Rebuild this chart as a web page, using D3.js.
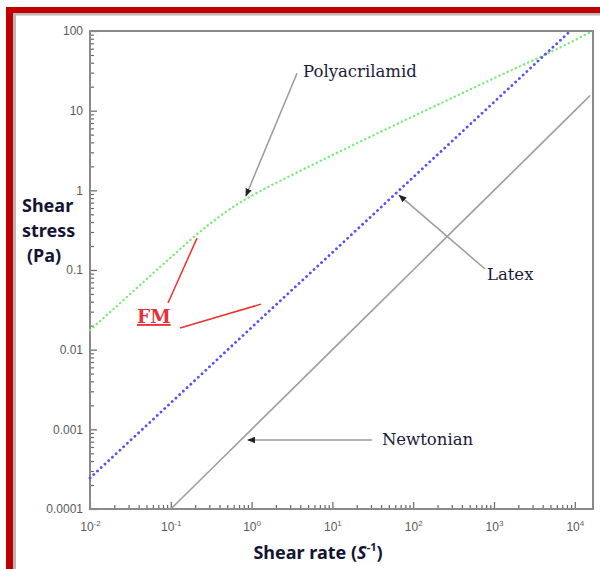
<!DOCTYPE html>
<html lang="en">
<head>
   <meta charset="UTF-8">
   <title>Shear stress vs shear rate</title>
   <style>
      body {
         margin: 0;
         background: white;
      }

      .tick text {
         font-family: 'Liberation Sans Narrow', 'Liberation Sans', sans-serif;
         fill: #5a5a5a;
      }

      .note {
         font-family: 'DejaVu Serif', serif;
         font-size: 16.5px;
         fill: #1b1b3a;
      }

      .title {
         font-family: 'Noto Sans', sans-serif;
         font-weight: bold;
         font-size: 18px;
         fill: #141432;
      }
   </style>
   <script src="https://cdn.jsdelivr.net/npm/d3@7"></script>
</head>
<body>
   <div class="d3"></div>
   <script>
      // axis extents
      const rateDomain = [0.01, 1.68e4]
      const stressDomain = [1e-4, 100]
      const rateMajor = [0.01, 0.1, 1, 10, 100, 1000, 10000]
      const rateExp = ['-2', '-1', '0', '1', '2', '3', '4']
      const stressMajor = [1e-4, 1e-3, 0.01, 0.1, 1, 10, 100]
      const stressLabels = ['0.0001', '0.001', '0.01', '0.1', '1', '10', '100']

      // Polyacrilamid (green dots)
      const polyRate = [0.01, 0.03, 0.1, 0.3, 0.7, 1, 3, 10, 100, 1000, 10000, 15500]
      const polyStress = [0.0176, 0.0479, 0.144, 0.376, 0.69, 0.853, 1.52, 2.77, 8.5, 25.5, 76.7, 96.6]

      // Latex (blue dots)
      const latexRate = [0.01, 0.1, 1, 10, 100, 1000, 8700]
      const latexStress = [2.45e-4, 2.15e-3, 0.019, 0.166, 1.46, 12.8, 99]

      // Newtonian (grey line)
      const newtRate = [0.1, 1, 10, 100, 1000, 10000, 15500]
      const newtStress = [1e-4, 1e-3, 0.01, 0.1, 1, 10, 15.5]

      // annotations, in data units [rate, stress]
      const notes = [
         { text: 'Polyacrilamid', at: [4.33, 26.3], from: [3.65, 29.5], to: [0.85, 0.85] },
         { text: 'Latex', at: [818, 0.0747], from: [775, 0.103], to: [67, 0.87] },
         { text: 'Newtonian', at: [41, 6.35e-4], from: [31, 7.35e-4], to: [0.9, 7.35e-4] }
      ]
      const fmAt = [0.0382, 0.0216]
      const fmLines = [
         [[0.0923, 0.0385], [0.211, 0.251]],
         [[0.13, 0.0187], [1.31, 0.0373]]
      ]

      const W = 600, H = 569
      const plot = { left: 90, right: 593, top: 31, bottom: 509 }

      const svg = d3.select('.d3').append('svg')
         .attr('width', W)
         .attr('height', H)

      // red frame of the figure
      svg.append('rect').attr('x', 13).attr('y', 13).attr('width', 3).attr('height', H).attr('fill', '#b8b8b8')
      svg.append('rect').attr('x', 13).attr('y', 13).attr('width', W).attr('height', 2.5).attr('fill', '#b8b8b8')
      svg.append('rect').attr('x', 6).attr('y', 7).attr('width', 7).attr('height', H).attr('fill', '#c00000')
      svg.append('rect').attr('x', 6).attr('y', 7).attr('width', W).attr('height', 6).attr('fill', '#c00000')

      const x = d3.scaleLog().domain(rateDomain).range([plot.left, plot.right])
      const y = d3.scaleLog().domain(stressDomain).range([plot.bottom, plot.top])

      const minorX = x.ticks().filter(v => !rateMajor.some(m => Math.abs(m - v) / m < 1e-6))
      const minorY = y.ticks().filter(v => !stressMajor.some(m => Math.abs(m - v) / m < 1e-6))

      // minor ticks
      svg.append('g')
         .attr('transform', `translate(0, ${plot.bottom})`)
         .call(d3.axisBottom(x).tickValues(minorX).tickSize(-4).tickFormat(''))
      svg.append('g')
         .attr('transform', `translate(${plot.left}, 0)`)
         .call(d3.axisLeft(y).tickValues(minorY).tickSize(-4).tickFormat(''))

      // major ticks + labels
      const xAxis = svg.append('g')
         .attr('transform', `translate(0, ${plot.bottom})`)
         .call(d3.axisBottom(x).tickValues(rateMajor).tickSize(-7).tickPadding(13).tickFormat(''))
      xAxis.selectAll('.tick text')
         .attr('font-size', 12)
         .each(function (d, i) {
            const t = d3.select(this)
            t.append('tspan').text('10')
            t.append('tspan').attr('font-size', 8).attr('dy', '-0.6em').text(rateExp[i])
         })

      svg.append('g')
         .attr('transform', `translate(${plot.left}, 0)`)
         .call(d3.axisLeft(y).tickValues(stressMajor).tickSize(-7).tickPadding(7)
            .tickFormat((d, i) => stressLabels[i]))
         .selectAll('.tick text')
         .attr('font-size', 12)

      svg.selectAll('.domain').remove()
      svg.selectAll('.tick line').attr('stroke', '#666').attr('stroke-width', 1.2)

      svg.append('rect')
         .attr('x', plot.left)
         .attr('y', plot.top)
         .attr('width', plot.right - plot.left)
         .attr('height', plot.bottom - plot.top)
         .attr('fill', 'none')
         .attr('stroke', '#8a8a8a')
         .attr('stroke-width', 2)

      // curves
      const line = d3.line()
         .x(d => x(d[0]))
         .y(d => y(d[1]))
         .curve(d3.curveMonotoneX)

      svg.append('path')
         .datum(d3.zip(newtRate, newtStress))
         .attr('d', line)
         .attr('fill', 'none')
         .attr('stroke', '#9e9e9e')
         .attr('stroke-width', 1.6)

      svg.append('path')
         .datum(d3.zip(polyRate, polyStress))
         .attr('d', line)
         .attr('fill', 'none')
         .attr('stroke', '#78ec78')
         .attr('stroke-width', 2.4)
         .attr('stroke-linecap', 'round')
         .attr('stroke-dasharray', '0.1 4.4')

      svg.append('path')
         .datum(d3.zip(latexRate, latexStress))
         .attr('d', line)
         .attr('fill', 'none')
         .attr('stroke', '#5454f0')
         .attr('stroke-width', 2.8)
         .attr('stroke-linecap', 'round')
         .attr('stroke-dasharray', '0.1 5')

      // annotations
      svg.append('defs').append('marker')
         .attr('id', 'head')
         .attr('viewBox', '0 0 10 10')
         .attr('refX', 9)
         .attr('refY', 5)
         .attr('markerWidth', 8)
         .attr('markerHeight', 8)
         .attr('markerUnits', 'userSpaceOnUse')
         .attr('orient', 'auto')
         .append('path')
            .attr('d', 'M0,1 L10,5 L0,9 Z')
            .attr('fill', '#222')

      notes.forEach(n => {
         svg.append('line')
            .attr('x1', x(n.from[0])).attr('y1', y(n.from[1]))
            .attr('x2', x(n.to[0])).attr('y2', y(n.to[1]))
            .attr('stroke', '#9a9a9a')
            .attr('stroke-width', 1.5)
            .attr('marker-end', 'url(#head)')
         svg.append('text')
            .attr('class', 'note')
            .attr('x', x(n.at[0]))
            .attr('y', y(n.at[1]))
            .text(n.text)
      })

      fmLines.forEach(l => {
         svg.append('line')
            .attr('x1', x(l[0][0])).attr('y1', y(l[0][1]))
            .attr('x2', x(l[1][0])).attr('y2', y(l[1][1]))
            .attr('stroke', '#f03030')
            .attr('stroke-width', 1.5)
      })
      svg.append('text')
         .attr('x', x(fmAt[0]))
         .attr('y', y(fmAt[1]))
         .attr('font-family', "'DejaVu Serif', serif")
         .attr('font-weight', 'bold')
         .attr('font-size', 18.5)
         .attr('fill', '#e8303a')
         .attr('text-decoration', 'underline')
         .text('FM')

      // axis titles
      const yTitle = svg.append('text').attr('class', 'title')
      yTitle.append('tspan').attr('x', 22).attr('y', 212).text('Shear')
      yTitle.append('tspan').attr('x', 22).attr('y', 237).text('stress')
      yTitle.append('tspan').attr('x', 27).attr('y', 262).text('(Pa)')

      const xTitle = svg.append('text').attr('class', 'title')
         .attr('x', 318)
         .attr('y', 559)
         .attr('text-anchor', 'middle')
      xTitle.append('tspan').text('Shear rate (')
      xTitle.append('tspan').attr('font-style', 'italic').text('S')
      xTitle.append('tspan').attr('font-size', 11).attr('dy', '-0.7em').text('-1')
      xTitle.append('tspan').attr('dy', '0.45em').text(')')
   </script>
</body>
</html>
